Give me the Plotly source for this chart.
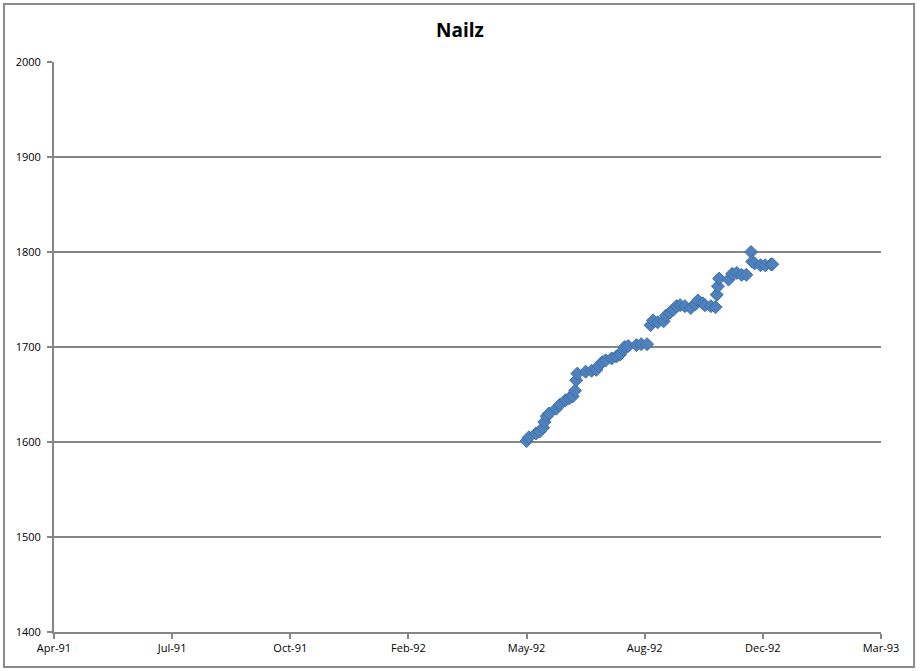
import plotly.graph_objects as go

# Nailz readings (date, value)
dates = [
    "1992-05-16", "1992-05-18", "1992-05-24", "1992-05-27", "1992-05-30", "1992-05-31",
    "1992-06-02", "1992-06-04", "1992-06-10", "1992-06-13", "1992-06-18", "1992-06-21",
    "1992-06-24", "1992-06-26", "1992-06-27", "1992-06-28", "1992-07-05", "1992-07-10",
    "1992-07-14", "1992-07-16", "1992-07-19", "1992-07-22", "1992-07-27", "1992-07-31",
    "1992-08-03", "1992-08-06", "1992-08-07", "1992-08-10", "1992-08-17", "1992-08-21",
    "1992-08-26", "1992-08-29", "1992-08-31", "1992-09-04", "1992-09-09", "1992-09-11",
    "1992-09-14", "1992-09-17", "1992-09-20", "1992-09-23", "1992-09-27", "1992-10-02",
    "1992-10-06", "1992-10-08", "1992-10-12", "1992-10-14", "1992-10-19", "1992-10-23",
    "1992-10-24", "1992-10-25", "1992-10-26", "1992-11-03", "1992-11-06", "1992-11-10",
    "1992-11-14", "1992-11-18", "1992-11-22", "1992-11-23", "1992-11-25", "1992-11-30",
    "1992-12-04", "1992-12-09", "1992-12-10",
]
values = [
    1601, 1605, 1609, 1611, 1615, 1621,
    1627, 1630, 1635, 1639, 1644, 1646,
    1648, 1654, 1665, 1672, 1674, 1675,
    1676, 1680, 1684, 1686, 1688, 1690,
    1692, 1697, 1700, 1701, 1702, 1703,
    1703, 1723, 1728, 1726, 1727, 1733,
    1736, 1739, 1743, 1744, 1743, 1741,
    1745, 1749, 1746, 1744, 1743, 1742,
    1755, 1764, 1772, 1771, 1777, 1778,
    1776, 1776, 1800, 1790, 1788, 1786,
    1786, 1787, 1787,
]

x_start, x_end = "1991-04-12", "1993-03-12"
y_ticks = [1400, 1500, 1600, 1700, 1800, 1900, 2000]

fig = go.Figure()
fig.add_trace(go.Scatter(
    x=dates, y=values, mode="markers",
    marker=dict(symbol="diamond", size=10, color="#4F81BD",
                line=dict(color="#3F6FA8", width=1)),
    showlegend=False,
))

fig.update_layout(
    width=920, height=671,
    margin=dict(l=54, r=39, t=62, b=39),
    paper_bgcolor="white", plot_bgcolor="white",
    font=dict(family="Open Sans", size=11, color="black"),
    title=dict(text="<b>Nailz</b>", x=0.5, xanchor="center", y=0.955, yanchor="middle",
               font=dict(size=19, family="Open Sans")),
    shapes=[dict(type="rect", xref="paper", yref="paper",
                 x0=-0.0605, x1=1.04, y0=-0.0614, y1=1.1018,
                 line=dict(color="#8a8a8a", width=2))],
)
fig.update_xaxes(
    type="date", range=[x_start, x_end],
    tick0=x_start, dtick=100 * 86400000, tickformat="%b-%y",
    showgrid=False, showline=True, linecolor="#868686", linewidth=2,
    ticks="outside", ticklen=5, tickcolor="#868686", tickwidth=1.5,
    zeroline=False,
)
fig.update_yaxes(
    range=[1400, 2000], tickvals=y_ticks,
    showgrid=True, gridcolor="#868686", gridwidth=1.5,
    showline=True, linecolor="#868686", linewidth=2,
    ticks="outside", ticklen=5, tickcolor="#868686", tickwidth=1.5,
    ticklabelstandoff=4, zeroline=False,
)

# drop the page's default body margin so the figure sits at the top-left corner
fig.write_html("out.html", config={"displayModeBar": False},
               post_script="document.body.style.margin='0';")
